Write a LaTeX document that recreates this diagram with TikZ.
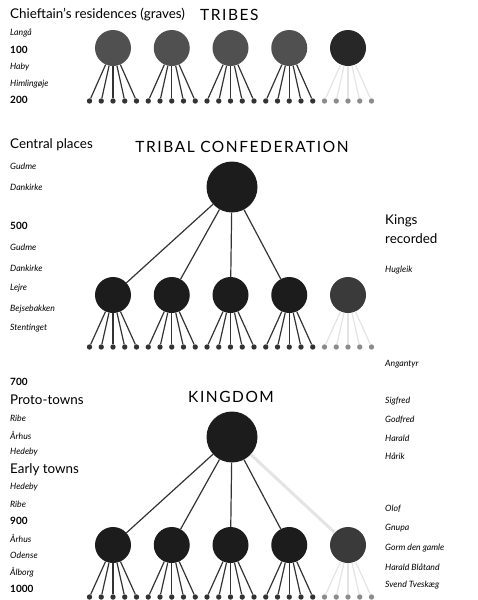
\documentclass[tikz,border=0pt]{standalone}
\usepackage{fontspec}
\setmainfont{Lato}
\newfontfamily\titlefont[LetterSpace=10]{Lato}
\definecolor{tribegray}{HTML}{505050}
\definecolor{chiefblack}{HTML}{1C1C1C}
\definecolor{fadedisc}{HTML}{3A3A3A}
\definecolor{linkgray}{HTML}{333333}
\definecolor{ghost}{HTML}{E4E4E4}
\tikzset{
  heading/.style={anchor=west,inner sep=0pt,font=\fontsize{13.4}{15}\selectfont},
  title/.style={inner sep=0pt,font=\titlefont\fontsize{15.5}{17}\selectfont},
  place/.style={anchor=west,inner sep=0pt,font=\fontsize{8.7}{10}\selectfont\itshape},
  year/.style={anchor=west,inner sep=0pt,font=\fontsize{10}{11}\selectfont\bfseries},
  chief/.style={circle,inner sep=0pt,minimum size=36pt,fill=#1},
  chief/.default=chiefblack,
  centre/.style={circle,inner sep=0pt,minimum size=51pt,fill=chiefblack},
  grave/.style={circle,inner sep=0pt,minimum size=5.4pt,fill=#1},
  grave/.default=linkgray,
  link/.style={draw=linkgray,line width=1.2pt},
  ghostlink/.style={draw=ghost,line width=1.2pt},
}
\begin{document}
\begin{tikzpicture}[x=1pt,y=-1pt]
\useasboundingbox (0,0) rectangle (477,600);

% tribes
\node[heading] (chieftains) at (10,15) {Chieftain's residences (graves)};
\node[title,anchor=west] (tribes) at (200,15) {TRIBES};
\node[place] (langaa) at (10,33) {Langå};
\node[year] (y100) at (10,50) {100};
\node[place] (haby) at (10,67) {Haby};
\node[place] (himlingoje) at (10,84) {Himlingøje};
\node[year] (y200) at (10,100) {200};

\foreach \i in {1,...,4}
  \node[chief=tribegray] (t\i) at ({113+(\i-1)*58.75},48) {};
\node[chief=chiefblack!95] (t5) at (348,48) {};
\foreach \j in {1,...,20}
  \node[grave] (td\j) at ({89.5+(\j-1)*11.75},101) {};
\foreach \j in {21,...,25}
  \node[grave=black!45] (td\j) at ({89.5+(\j-1)*11.75},101) {};
\foreach \i in {1,...,5}
  \foreach \k in {1,...,5} {
    \pgfmathtruncatemacro\d{(\i-1)*5+\k}
    \ifnum\i=5 \draw[ghostlink] (t\i) -- (td\d); \else \draw[link] (t\i) -- (td\d); \fi
  }

% tribal confederation
\node[heading] (central) at (10,145) {Central places};
\node[title] (confed) at (242,147) {TRIBAL CONFEDERATION};
\node[place] (gudmeA) at (10,166) {Gudme};
\node[place] (dankirkeA) at (10,187) {Dankirke};
\node[year] (y500) at (10,226) {500};
\node[place] (gudmeB) at (10,247) {Gudme};
\node[place] (dankirkeB) at (10,268) {Dankirke};
\node[place] (lejre) at (10,288) {Lejre};
\node[place] (bejsebakken) at (10,309) {Bejsebakken};
\node[place] (stentinget) at (10,328) {Stentinget};
\node[heading] (kings) at (385,221) {Kings};
\node[heading] (recorded) at (385,239) {recorded};
\node[place] (hugleik) at (385,270) {Hugleik};
\node[place] (angantyr) at (385,364) {Angantyr};

\node[centre] (confedtop) at (232,187) {};
\foreach \i in {1,...,4}
  \node[chief] (c\i) at ({113+(\i-1)*58.75},295) {};
\node[chief=fadedisc] (c5) at (348,295) {};
\foreach \j in {1,...,20}
  \node[grave] (cd\j) at ({89.5+(\j-1)*11.75},347) {};
\foreach \j in {21,...,25}
  \node[grave=black!45] (cd\j) at ({89.5+(\j-1)*11.75},347) {};
\foreach \i in {1,...,4}
  \draw[link] (confedtop) -- (c\i);
\foreach \i in {1,...,5}
  \foreach \k in {1,...,5} {
    \pgfmathtruncatemacro\d{(\i-1)*5+\k}
    \ifnum\i=5 \draw[ghostlink] (c\i) -- (cd\d); \else \draw[link] (c\i) -- (cd\d); \fi
  }

% kingdom
\node[year] (y700) at (10,382) {700};
\node[heading] (proto) at (10,400) {Proto-towns};
\node[title] (kingdom) at (231,397) {KINGDOM};
\node[place] (ribeA) at (10,418) {Ribe};
\node[place] (aarhusA) at (10,435) {Århus};
\node[place] (hedebyA) at (10,452) {Hedeby};
\node[heading] (early) at (10,470) {Early towns};
\node[place] (hedebyB) at (10,487) {Hedeby};
\node[place] (ribeB) at (10,504) {Ribe};
\node[year] (y900) at (10,521) {900};
\node[place] (aarhusB) at (10,538) {Århus};
\node[place] (odense) at (10,555) {Odense};
\node[place] (aalborg) at (10,572) {Ålborg};
\node[year] (y1000) at (10,589) {1000};
\node[place] (sigfred) at (385,401) {Sigfred};
\node[place] (godfred) at (385,420) {Godfred};
\node[place] (harald) at (385,438) {Harald};
\node[place] (horik) at (385,456) {Hårik};
\node[place] (olof) at (385,509) {Olof};
\node[place] (gnupa) at (385,528) {Gnupa};
\node[place] (gorm) at (385,548) {Gorm den gamle};
\node[place] (blaatand) at (385,567) {Harald Blåtand};
\node[place] (tveskaeg) at (385,585) {Svend Tveskæg};

\node[centre] (kingtop) at (232,437) {};
\foreach \i in {1,...,4}
  \node[chief] (k\i) at ({113+(\i-1)*58.75},545) {};
\node[chief=fadedisc] (k5) at (348,545) {};
\foreach \j in {1,...,20}
  \node[grave] (kd\j) at ({89.5+(\j-1)*11.75},597) {};
\foreach \j in {21,...,25}
  \node[grave=black!45] (kd\j) at ({89.5+(\j-1)*11.75},597) {};
\draw[ghost,line width=3pt] (kingtop) -- (k5);
\foreach \i in {1,...,4}
  \draw[link] (kingtop) -- (k\i);
\foreach \i in {1,...,5}
  \foreach \k in {1,...,5} {
    \pgfmathtruncatemacro\d{(\i-1)*5+\k}
    \ifnum\i=5 \draw[ghostlink] (k\i) -- (kd\d); \else \draw[link] (k\i) -- (kd\d); \fi
  }
\end{tikzpicture}
\end{document}
